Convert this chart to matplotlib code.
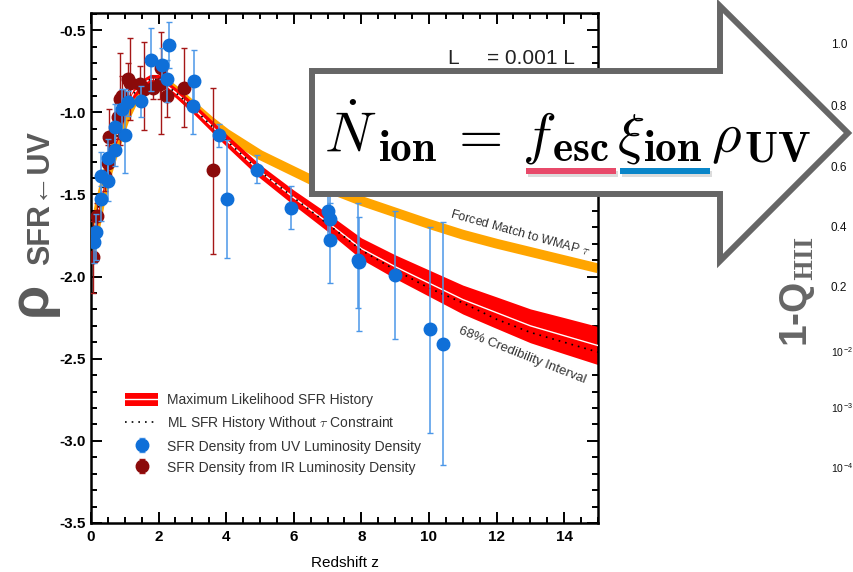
import matplotlib
matplotlib.use('Agg')
import matplotlib.pyplot as plt
from matplotlib.patches import Polygon, Rectangle, Patch
from matplotlib.lines import Line2D
from matplotlib.ticker import MultipleLocator

plt.rcParams['font.family'] = ['Liberation Sans', 'DejaVu Sans']
plt.rcParams['mathtext.fontset'] = 'cm'
plt.rcParams['axes.unicode_minus'] = False

# model curves (log10 SFR density vs redshift)
z_curve = [0, 0.25, 0.5, 0.75, 1, 1.25, 1.5, 1.75, 2, 2.25, 2.5, 3, 3.5, 4,
           5, 6, 7, 8, 9, 10, 11, 12, 13, 14, 15]
ml_sfr = [-1.82, -1.55, -1.33, -1.16, -1.00, -0.89, -0.83, -0.80, -0.80, -0.84,
          -0.88, -0.97, -1.07, -1.17, -1.36, -1.52, -1.67, -1.83, -1.94, -2.04,
          -2.14, -2.22, -2.30, -2.36, -2.42]
ml_half = [0.03, 0.03, 0.03, 0.03, 0.03, 0.03, 0.03, 0.03, 0.03, 0.03, 0.03,
           0.033, 0.035, 0.037, 0.041, 0.046, 0.055, 0.065, 0.072, 0.08, 0.088,
           0.096, 0.103, 0.11, 0.116]
ml_no_tau = [-1.82, -1.55, -1.33, -1.16, -1.00, -0.89, -0.83, -0.80, -0.80, -0.84,
             -0.88, -0.97, -1.07, -1.17, -1.36, -1.52, -1.68, -1.84, -1.96, -2.07,
             -2.16, -2.26, -2.34, -2.40, -2.46]
wmap_sfr = [-1.84, -1.57, -1.36, -1.19, -1.04, -0.93, -0.86, -0.82, -0.81, -0.83,
            -0.87, -0.96, -1.05, -1.13, -1.26, -1.36, -1.46, -1.54, -1.61, -1.68,
            -1.745, -1.80, -1.85, -1.90, -1.95]

# UV luminosity density points: z, value, upper end, lower end
uv_z = [0.10, 0.15, 0.30, 0.30, 0.51, 0.51, 0.71, 0.71, 0.93, 1.00, 1.10, 1.47,
        1.77, 2.11, 2.24, 2.32, 3.06, 3.01, 3.79, 4.01, 4.92, 5.92, 7.02, 7.07,
        7.07, 7.90, 7.94, 9.00, 10.03, 10.42]
uv_v = [-1.79, -1.73, -1.53, -1.39, -1.42, -1.28, -1.23, -1.09, -0.98, -1.14,
        -0.94, -0.93, -0.68, -0.71, -0.80, -0.59, -0.81, -0.96, -1.14, -1.53,
        -1.35, -1.58, -1.60, -1.65, -1.78, -1.90, -1.91, -1.99, -2.32, -2.41]
uv_hi = [-1.70, -1.62, -1.45, -1.24, -1.30, -1.16, -1.12, -0.95, -0.86, -0.86,
         -0.87, -0.84, -0.49, -0.61, -0.68, -0.45, -0.62, -0.82, -1.07, -1.17,
         -1.26, -1.45, -1.45, -1.50, -1.55, -1.55, -1.64, -1.60, -1.70, -1.67]
uv_lo = [-1.92, -1.90, -1.66, -1.53, -1.54, -1.38, -1.33, -1.23, -1.10, -1.37,
         -1.02, -1.03, -0.87, -0.80, -0.94, -0.73, -1.00, -1.13, -1.21, -1.89,
         -1.43, -1.71, -1.75, -1.80, -2.04, -2.19, -2.33, -2.38, -2.95, -3.15]

# IR luminosity density points
ir_z = [0.07, 0.17, 0.41, 0.51, 0.54, 0.81, 0.86, 0.91, 1.10, 1.15, 1.45, 1.57,
        1.84, 2.04, 2.06, 2.26, 2.76, 3.60]
ir_v = [-1.88, -1.63, -1.39, -1.31, -1.15, -1.03, -0.92, -0.90, -0.80, -0.82,
        -0.83, -0.86, -0.85, -0.83, -0.73, -0.90, -0.85, -1.35]
ir_hi = [-1.66, -1.55, -1.30, -1.20, -0.98, -0.90, -0.64, -0.78, -0.70, -0.55,
         -0.72, -0.57, -0.78, -0.74, -0.51, -0.80, -0.61, -0.85]
ir_lo = [-2.10, -1.72, -1.48, -1.42, -1.30, -1.16, -1.20, -1.02, -0.90, -1.05,
         -0.94, -1.11, -0.92, -0.92, -1.13, -1.03, -1.09, -1.86]

qhii_labels = ['1.0', '0.8', '0.6', '0.4', '0.2',
               '10$^{\\mathregular{-2}}$', '10$^{\\mathregular{-3}}$', '10$^{\\mathregular{-4}}$']

fig = plt.figure(figsize=(8.54, 5.72), dpi=100)
ax = fig.add_axes([91 / 854, 49 / 572, 507 / 854, 510 / 572])

band_lo = [m - h for m, h in zip(ml_sfr, ml_half)]
band_hi = [m + h for m, h in zip(ml_sfr, ml_half)]

ax.plot(z_curve, wmap_sfr, color='#ffa500', lw=7, solid_capstyle='butt', zorder=1)
ax.fill_between(z_curve, band_lo, band_hi, color='#ff0000', lw=0, zorder=2)
ax.plot(z_curve, ml_sfr, color='white', lw=1, zorder=3)
ax.plot(z_curve, ml_no_tau, color='black', lw=1.2, ls=(0, (1, 3)), zorder=3)

ir_err = [[v - l for v, l in zip(ir_v, ir_lo)], [h - v for v, h in zip(ir_v, ir_hi)]]
uv_err = [[v - l for v, l in zip(uv_v, uv_lo)], [h - v for v, h in zip(uv_v, uv_hi)]]
ir = ax.errorbar(ir_z, ir_v, yerr=ir_err, fmt='o', ms=9, color='#8b0a0a',
                 ecolor='#a51717', elinewidth=1, capsize=2.5, capthick=1, zorder=4)
uv = ax.errorbar(uv_z, uv_v, yerr=uv_err, fmt='o', ms=9, color='#0f6fd8',
                 ecolor='#4b97e8', elinewidth=1.1, capsize=2.5, capthick=1, zorder=5)

ax.set_xlim(0, 15)
ax.set_ylim(-3.5, -0.396)
ax.xaxis.set_major_locator(MultipleLocator(2))
ax.xaxis.set_minor_locator(MultipleLocator(0.5))
ax.yaxis.set_major_locator(MultipleLocator(0.5))
ax.yaxis.set_minor_locator(MultipleLocator(0.1))
ax.tick_params(which='both', direction='in', top=True, right=True, width=1.4,
               labelsize=11)
ax.tick_params(which='major', length=8)
ax.tick_params(which='minor', length=4.5)
ax.tick_params(axis='y', pad=4)
ax.tick_params(axis='x', pad=5)
for lab in ax.get_xticklabels() + ax.get_yticklabels():
    lab.set_fontweight('bold')
for s in ax.spines.values():
    s.set_linewidth(1.8)
ax.set_xlabel('Redshift z', fontsize=11, labelpad=9)

ax.text(12.69, -1.738, 'Forced Match to WMAP $\\tau$', fontsize=9, color='#333333',
        rotation=-15.5, rotation_mode='anchor', ha='center', va='center')
ax.text(12.75, -2.48, '68% Credibility Interval', fontsize=9.5, color='#333333',
        rotation=-21.6, rotation_mode='anchor', ha='center', va='center')

band_handle = (Patch(facecolor='#ff0000', edgecolor='none'),
               Line2D([], [], color='white', lw=1))
dot_handle = Line2D([], [], color='black', lw=1.2, ls=(0, (1, 3)))
leg = ax.legend([band_handle, dot_handle, uv, ir],
                ['Maximum Likelihood SFR History',
                 'ML SFR History Without $\\tau$ Constraint',
                 'SFR Density from UV Luminosity Density',
                 'SFR Density from IR Luminosity Density'],
                loc='upper left', bbox_to_anchor=(0.067, 0.255), frameon=False,
                fontsize=10, handlelength=2.4, handleheight=1.1,
                handletextpad=0.6, labelspacing=0.5, borderpad=0,
                borderaxespad=0)
for t in leg.get_texts():
    t.set_color('#333333')

# overlay: arrow with the ionising-photon equation and side labels
ov = fig.add_axes([0, 0, 1, 1], zorder=10)
ov.set_xlim(0, 854)
ov.set_ylim(572, 0)
ov.axis('off')
ov.patch.set_alpha(0)

ov.text(447, 64, 'L', fontsize=15, color='#222222', va='baseline')
ov.text(487, 64, '= 0.001 L', fontsize=15, color='#222222', va='baseline')

arrow = Polygon([(312, 71), (720, 71), (720, 6), (848, 133), (720, 261),
                 (720, 194), (312, 194)], closed=True, facecolor='white',
                edgecolor='#666666', lw=4.3, joinstyle='miter')
ov.add_patch(arrow)

eq_parts = [(r'$\dot{N}$', 324, 152, 41), (r'$\mathbf{ion}$', 378, 161, 31),
            (r'$=$', 449, 152, 41), (r'$f$', 522, 152, 41),
            (r'$\mathbf{esc}$', 552, 161, 31), (r'$\xi$', 617, 152, 41),
            (r'$\mathbf{ion}$', 643, 161, 31), (r'$\rho$', 711, 152, 41),
            (r'$\mathbf{UV}$', 744, 161, 31)]
for s, xx, yy, fs in eq_parts:
    ov.text(xx, yy, s, fontsize=fs, ha='left', va='baseline', color='black')
ov.add_patch(Rectangle((528, 171), 90, 6, color='#bbbbbb', alpha=0.5, lw=0))
ov.add_patch(Rectangle((622, 171), 90, 6, color='#bbbbbb', alpha=0.5, lw=0))
ov.add_patch(Rectangle((526, 168), 90, 6, color='#e84a6a', lw=0))
ov.add_patch(Rectangle((620, 168), 90, 6, color='#0a86c9', lw=0))

qhii_y = [45, 107, 168, 228, 288, 352, 408, 468]
for lab, yy in zip(qhii_labels, qhii_y):
    fs = 8.5 if '$' not in lab else 7.5
    ov.text(831, yy, lab, fontsize=fs, ha='left', va='center', color='#111111')
ov.text(798, 292, '1-Q$_{\\mathbf{HII}}$', fontsize=28, fontweight='bold',
        rotation=90, ha='center', va='center', color='#666666')

ov.text(32, 299, '\u03c1', fontsize=40, fontweight='bold', rotation=90,
        ha='center', va='center', color='#5a5a5a')
ov.text(41, 198, 'SFR\u2190UV', fontsize=22, fontweight='bold', rotation=90,
        ha='center', va='center', color='#5a5a5a')

fig.savefig('out.png', dpi=100)
